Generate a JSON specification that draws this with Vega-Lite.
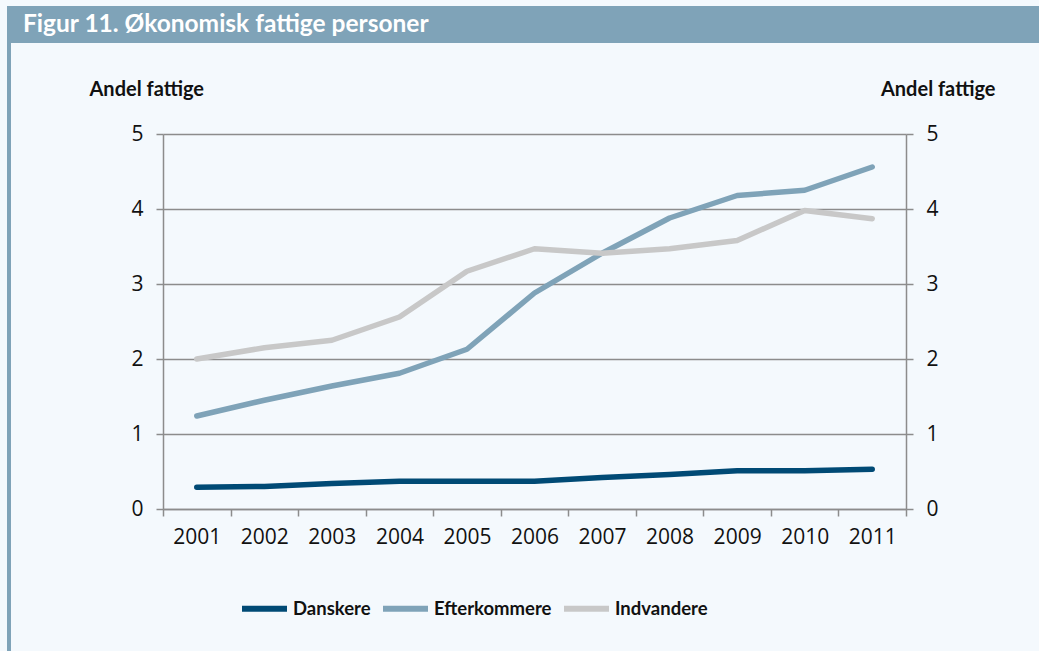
{
  "$schema": "https://vega.github.io/schema/vega-lite/v6.json",
  "background": "#f4f9fd",
  "padding": {"left": 6, "top": 6, "right": 0, "bottom": 0},
  "config": {
    "view": {"stroke": null},
    "axis": {
      "domainColor": "#8c8c8c", "domainWidth": 1.5,
      "gridColor": "#8c8c8c", "gridWidth": 1.5,
      "tickColor": "#8c8c8c", "tickWidth": 1.5, "tickSize": 7,
      "labelFont": "Open Sans", "labelFontSize": 21, "labelColor": "#111111",
      "titleFont": "Lato", "titleFontSize": 20, "titleFontWeight": "bold", "titleColor": "#111111"
    },
    "legend": {
      "labelFont": "Lato", "labelFontSize": 18.5, "labelFontWeight": "bold", "labelColor": "#111111"
    }
  },
  "vconcat": [
    {
      "width": 1033,
      "height": 37,
      "view": {"fill": "#7fa3b8", "stroke": null},
      "title": {
        "text": "Figur 11. Økonomisk fattige personer",
        "anchor": "start", "frame": "group", "orient": "top",
        "baseline": "alphabetic", "offset": -27, "dy": 23, "dx": 16,
        "font": "Lato", "fontSize": 24.5, "fontWeight": "bold", "color": "#ffffff"
      },
      "data": {"values": [{}]},
      "mark": {"type": "point", "opacity": 0}
    },
    {
      "hconcat": [
        {
          "width": 4,
          "height": 608,
          "view": {"fill": "#7fa3b8", "stroke": null},
          "data": {"values": [{}]},
          "mark": {"type": "point", "opacity": 0}
        },
        {
          "vconcat": [
            {
              "width": 743,
              "height": 90,
              "data": {"values": [{}]},
              "mark": {"type": "point", "opacity": 0}
            },
            {
              "width": 743,
              "height": 375,
              "data": {
                "values": [
                  {"year": "2001", "group": "Danskere", "value": 0.29},
                  {"year": "2002", "group": "Danskere", "value": 0.30},
                  {"year": "2003", "group": "Danskere", "value": 0.34},
                  {"year": "2004", "group": "Danskere", "value": 0.37},
                  {"year": "2005", "group": "Danskere", "value": 0.37},
                  {"year": "2006", "group": "Danskere", "value": 0.37},
                  {"year": "2007", "group": "Danskere", "value": 0.42},
                  {"year": "2008", "group": "Danskere", "value": 0.46},
                  {"year": "2009", "group": "Danskere", "value": 0.51},
                  {"year": "2010", "group": "Danskere", "value": 0.51},
                  {"year": "2011", "group": "Danskere", "value": 0.53},
                  {"year": "2001", "group": "Efterkommere", "value": 1.24},
                  {"year": "2002", "group": "Efterkommere", "value": 1.45},
                  {"year": "2003", "group": "Efterkommere", "value": 1.64},
                  {"year": "2004", "group": "Efterkommere", "value": 1.81},
                  {"year": "2005", "group": "Efterkommere", "value": 2.13},
                  {"year": "2006", "group": "Efterkommere", "value": 2.88},
                  {"year": "2007", "group": "Efterkommere", "value": 3.41},
                  {"year": "2008", "group": "Efterkommere", "value": 3.88},
                  {"year": "2009", "group": "Efterkommere", "value": 4.18},
                  {"year": "2010", "group": "Efterkommere", "value": 4.25},
                  {"year": "2011", "group": "Efterkommere", "value": 4.56},
                  {"year": "2001", "group": "Indvandere", "value": 2.00},
                  {"year": "2002", "group": "Indvandere", "value": 2.15},
                  {"year": "2003", "group": "Indvandere", "value": 2.25},
                  {"year": "2004", "group": "Indvandere", "value": 2.56},
                  {"year": "2005", "group": "Indvandere", "value": 3.17},
                  {"year": "2006", "group": "Indvandere", "value": 3.47},
                  {"year": "2007", "group": "Indvandere", "value": 3.41},
                  {"year": "2008", "group": "Indvandere", "value": 3.47},
                  {"year": "2009", "group": "Indvandere", "value": 3.58},
                  {"year": "2010", "group": "Indvandere", "value": 3.98},
                  {"year": "2011", "group": "Indvandere", "value": 3.87}
                ]
              },
              "layer": [
                {
                  "mark": {"type": "line", "strokeWidth": 5.5, "strokeCap": "round", "strokeJoin": "round"},
                  "encoding": {
                    "x": {
                      "field": "year", "type": "ordinal", "bandPosition": 0.5,
                      "scale": {"type": "band", "paddingInner": 0, "paddingOuter": 0},
                      "axis": {"title": null, "labelAngle": 0, "tickBand": "extent", "grid": false, "labelPadding": 10}
                    },
                    "y": {
                      "field": "value", "type": "quantitative",
                      "scale": {"domain": [0, 5], "nice": false},
                      "axis": {
                        "orient": "left", "values": [0, 1, 2, 3, 4, 5], "grid": true,
                        "title": "Andel fattige", "titleAngle": 0, "titleAlign": "left",
                        "titleBaseline": "alphabetic", "titleX": -74, "titleY": -39,
                        "labelPadding": 13
                      }
                    },
                    "color": {
                      "field": "group", "type": "nominal",
                      "scale": {
                        "domain": ["Danskere", "Efterkommere", "Indvandere"],
                        "range": ["#004a75", "#7fa3b8", "#c8c8c8"]
                      },
                      "legend": {
                        "title": null, "orient": "none", "direction": "horizontal",
                        "legendX": 232, "legendY": 577,
                        "symbolType": "stroke", "symbolSize": 2025, "symbolStrokeWidth": 6,
                        "labelOffset": 3, "columnPadding": 0
                      }
                    }
                  }
                },
                {
                  "mark": {"type": "line", "opacity": 0},
                  "encoding": {
                    "x": {"field": "year", "type": "ordinal", "bandPosition": 0.5},
                    "y": {
                      "field": "value", "type": "quantitative",
                      "axis": {
                        "orient": "right", "values": [0, 1, 2, 3, 4, 5], "grid": false,
                        "title": "Andel fattige", "titleAngle": 0, "titleAlign": "right",
                        "titleBaseline": "alphabetic", "titleX": 89, "titleY": -39,
                        "labelPadding": 13
                      }
                    },
                    "detail": {"field": "group"}
                  }
                }
              ],
              "resolve": {"axis": {"y": "independent"}}
            }
          ],
          "spacing": 1,
          "bounds": "flush"
        }
      ],
      "spacing": 152,
      "bounds": "flush"
    }
  ],
  "spacing": 0,
  "bounds": "flush"
}
